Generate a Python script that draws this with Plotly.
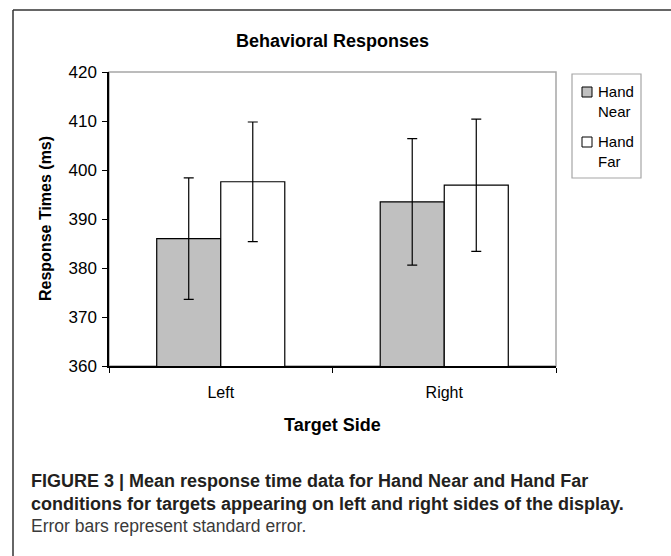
import plotly.graph_objects as go

# ---- data ----
categories = ["Left", "Right"]
hand_near = [386.0, 393.5]
hand_far = [397.6, 396.9]
near_se = [12.4, 12.9]
far_se = [12.2, 13.5]
y_tick_vals = [360, 370, 380, 390, 400, 410, 420]
series_names = ["Hand Near", "Hand Far"]

W, H = 671, 556
L, R, T, B = 109, 556, 72, 366  # plot area in px


def px2x(px):
    return (px - L) / (R - L)


def px2y(py):
    return (B - py) / (B - T)


FONT = "Liberation Sans, Arial, sans-serif"

fig = go.Figure()
fig.add_trace(go.Bar(
    x=categories, y=hand_near, name=series_names[0],
    marker=dict(color="#c0c0c0", line=dict(color="black", width=1.2)),
    error_y=dict(type="data", array=near_se, color="black", thickness=1.2, width=5),
))
fig.add_trace(go.Bar(
    x=categories, y=hand_far, name=series_names[1],
    marker=dict(color="white", line=dict(color="black", width=1.2)),
    error_y=dict(type="data", array=far_se, color="black", thickness=1.2, width=5),
))

shapes = [
    # outer figure frame (top and left visible)
    dict(type="line", xref="paper", yref="paper", x0=px2x(13), x1=px2x(680),
         y0=px2y(10), y1=px2y(10), line=dict(color="#333333", width=1.5)),
    dict(type="line", xref="paper", yref="paper", x0=px2x(13), x1=px2x(13),
         y0=px2y(10), y1=px2y(570), line=dict(color="#333333", width=1.5)),
    # plot area border
    dict(type="rect", xref="paper", yref="paper", x0=0, x1=1, y0=0, y1=1,
         line=dict(color="#a6a6a6", width=1.5), layer="below"),
    # legend box
    dict(type="rect", xref="paper", yref="paper", x0=px2x(572), x1=px2x(641),
         y0=px2y(178), y1=px2y(74), line=dict(color="#a6a6a6", width=1.2),
         fillcolor="white"),
    # legend swatches
    dict(type="rect", xref="paper", yref="paper", x0=px2x(582), x1=px2x(592),
         y0=px2y(97), y1=px2y(87), line=dict(color="black", width=1),
         fillcolor="#c0c0c0"),
    dict(type="rect", xref="paper", yref="paper", x0=px2x(582), x1=px2x(592),
         y0=px2y(147), y1=px2y(137), line=dict(color="black", width=1),
         fillcolor="white"),
]

annotations = [
    dict(text="<b>Behavioral Responses</b>", xref="paper", yref="paper",
         x=0.5, y=px2y(41), xanchor="center", yanchor="middle", showarrow=False,
         font=dict(family=FONT, size=18, color="black")),
    dict(text="<b>Response Times (ms)</b>", xref="paper", yref="paper",
         x=px2x(45), y=0.5, xanchor="center", yanchor="middle", textangle=-90,
         showarrow=False, font=dict(family=FONT, size=16, color="black")),
    dict(text="<b>Target Side</b>", xref="paper", yref="paper",
         x=0.5, y=px2y(425), xanchor="center", yanchor="middle", showarrow=False,
         font=dict(family=FONT, size=18, color="black")),
    dict(text="Hand<br>Near", xref="paper", yref="paper", x=px2x(596), y=px2y(101),
         xanchor="left", yanchor="middle", align="left", showarrow=False,
         font=dict(family=FONT, size=15, color="black")),
    dict(text="Hand<br>Far", xref="paper", yref="paper", x=px2x(596), y=px2y(151),
         xanchor="left", yanchor="middle", align="left", showarrow=False,
         font=dict(family=FONT, size=15, color="black")),
    dict(text="<b>FIGURE 3 | Mean response time data for Hand Near and Hand Far</b>",
         xref="paper", yref="paper", x=px2x(29), y=px2y(481), xanchor="left",
         yanchor="middle", showarrow=False,
         font=dict(family=FONT, size=18, color="#231f20")),
    dict(text="<b>conditions for targets appearing on left and right sides of the display.</b>",
         xref="paper", yref="paper", x=px2x(29), y=px2y(504), xanchor="left",
         yanchor="middle", showarrow=False,
         font=dict(family=FONT, size=18, color="#231f20")),
    dict(text="Error bars represent standard error.",
         xref="paper", yref="paper", x=px2x(29), y=px2y(526), xanchor="left",
         yanchor="middle", showarrow=False,
         font=dict(family=FONT, size=17.5, color="#3a3a3a")),
]

fig.update_layout(
    width=W, height=H,
    margin=dict(l=L, r=W - R, t=T, b=H - B, pad=0),
    paper_bgcolor="white", plot_bgcolor="white",
    barmode="group", bargap=0.427, bargroupgap=0,
    showlegend=False,
    shapes=shapes, annotations=annotations,
    font=dict(family=FONT, color="black"),
    xaxis=dict(type="category", showline=True, linecolor="black", linewidth=1.5,
               ticks="outside", tickson="boundaries", ticklen=5, tickcolor="black",
               tickwidth=1.2, showgrid=False, zeroline=False,
               tickfont=dict(family=FONT, size=16, color="black"),
               ticklabelstandoff=11),
    yaxis=dict(range=[360, 420], tickvals=y_tick_vals, showline=True,
               linecolor="black", linewidth=1.5, ticks="outside", ticklen=5,
               tickcolor="black", tickwidth=1.2, showgrid=False, zeroline=False,
               tickfont=dict(family=FONT, size=17, color="black"),
               ticklabelstandoff=2),
)

fig.write_html("out.html")
